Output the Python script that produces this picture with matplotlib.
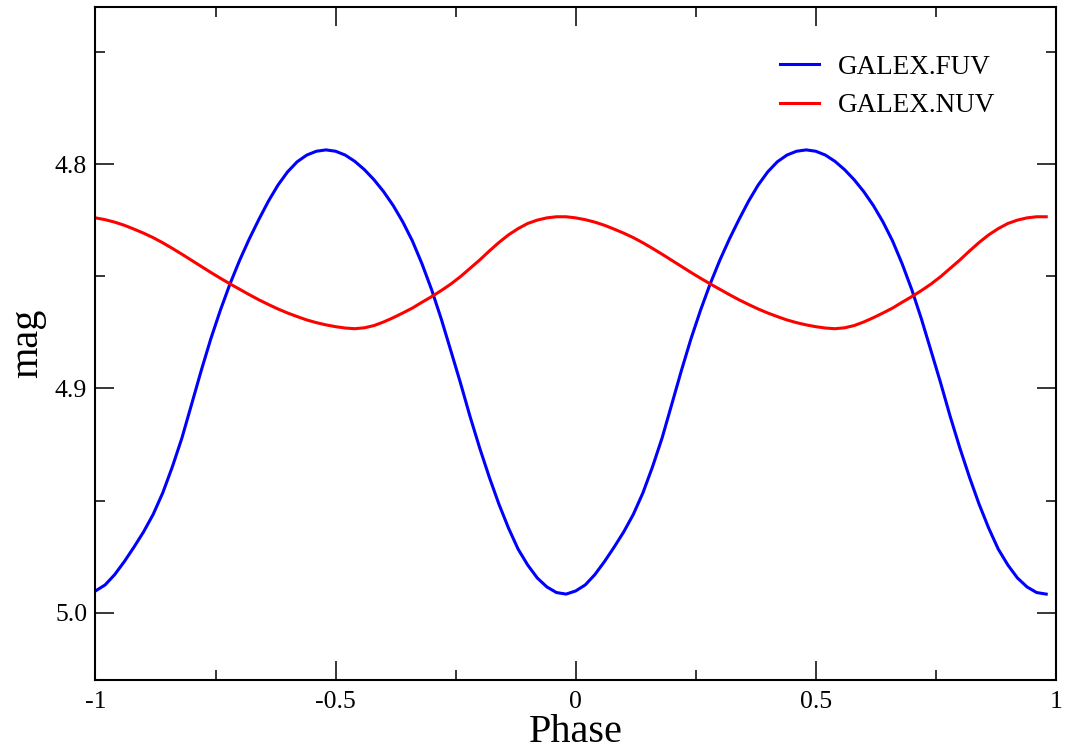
import numpy as np
import matplotlib
matplotlib.use("Agg")
import matplotlib.pyplot as plt

# ---- data (one phase cycle, repeated for phase -1..0 and 0..1) ----
phase_cycle = [0.00, 0.02, 0.04, 0.06, 0.08, 0.10, 0.12, 0.14, 0.16, 0.18,
               0.20, 0.22, 0.24, 0.26, 0.28, 0.30, 0.32, 0.34, 0.36, 0.38,
               0.40, 0.42, 0.44, 0.46, 0.48, 0.50, 0.52, 0.54, 0.56, 0.58,
               0.60, 0.62, 0.64, 0.66, 0.68, 0.70, 0.72, 0.74, 0.76, 0.78,
               0.80, 0.82, 0.84, 0.86, 0.88, 0.90, 0.92, 0.94, 0.96, 0.98]

fuv_mag = [4.9903, 4.9876, 4.9830, 4.9772, 4.9708, 4.9640, 4.9562, 4.9466, 4.9350, 4.9221,
           4.9072, 4.8922, 4.8780, 4.8652, 4.8535, 4.8430, 4.8335, 4.8248, 4.8166, 4.8094,
           4.8035, 4.7990, 4.7960, 4.7943, 4.7937, 4.7943, 4.7960, 4.7988, 4.8025, 4.8070,
           4.8123, 4.8185, 4.8258, 4.8343, 4.8445, 4.8560, 4.8690, 4.8832, 4.8975, 4.9125,
           4.9265, 4.9395, 4.9515, 4.9622, 4.9716, 4.9787, 4.9845, 4.9885, 4.9910, 4.9917]

nuv_mag = [4.8240, 4.8248, 4.8259, 4.8273, 4.8290, 4.8308, 4.8328, 4.8351, 4.8376, 4.8402,
           4.8429, 4.8456, 4.8483, 4.8509, 4.8534, 4.8558, 4.8582, 4.8605, 4.8626, 4.8646,
           4.8664, 4.8680, 4.8695, 4.8707, 4.8717, 4.8725, 4.8731, 4.8734, 4.8730, 4.8720,
           4.8704, 4.8685, 4.8664, 4.8642, 4.8616, 4.8591, 4.8564, 4.8535, 4.8502, 4.8465,
           4.8428, 4.8388, 4.8350, 4.8316, 4.8288, 4.8265, 4.8250, 4.8240, 4.8235, 4.8235]

series_labels = ["GALEX.FUV", "GALEX.NUV"]
x_ticks = [-1, -0.5, 0, 0.5, 1]
x_tick_labels = ["-1", "-0.5", "0", "0.5", "1"]
x_minor = [-0.75, -0.25, 0.25, 0.75]
y_ticks = [4.8, 4.9, 5.0]
y_tick_labels = ["4.8", "4.9", "5.0"]
y_minor = [4.75, 4.85, 4.95]

# ---- build the two plotted cycles ----
pc = np.array(phase_cycle)
phase = np.concatenate([pc - 1.0, pc])
fuv = np.concatenate([fuv_mag, fuv_mag])
nuv = np.concatenate([nuv_mag, nuv_mag])

plt.rcParams['font.family'] = ['Liberation Serif', 'DejaVu Serif']
plt.rcParams['axes.unicode_minus'] = False

fig = plt.figure(figsize=(10.73, 7.51), dpi=100)
ax = fig.add_axes([0.089, 0.0945, 0.895, 0.8962])

ax.plot(phase, fuv, color='#0000ff', lw=2.2, label=series_labels[0],
        solid_joinstyle='round')
ax.plot(phase, nuv, color='#ff0000', lw=2.2, label=series_labels[1],
        solid_joinstyle='round')

ax.set_xlim(-1, 1)
ax.set_ylim(5.03, 4.73)

ax.set_xticks(x_ticks)
ax.set_xticklabels(x_tick_labels)
ax.set_xticks(x_minor, minor=True)
ax.set_yticks(y_ticks)
ax.set_yticklabels(y_tick_labels)
ax.set_yticks(y_minor, minor=True)

ax.tick_params(which='both', direction='in', top=True, right=True, colors='black')
ax.tick_params(which='major', length=13.7, width=1.1, labelsize=18.5, pad=8)
ax.tick_params(axis='y', which='major', pad=6)
ax.tick_params(which='minor', length=7.0, width=1.1)
for s in ax.spines.values():
    s.set_linewidth(1.5)

ax.set_xlabel("Phase", fontsize=29, labelpad=0.5)
ax.set_ylabel("mag", fontsize=29, labelpad=6)

ax.legend(loc='upper left', bbox_to_anchor=(0.7127, 0.929), frameon=False,
          fontsize=19.5, handlelength=1.45, handletextpad=0.7, borderpad=0,
          borderaxespad=0, labelspacing=0.5)

fig.savefig("out.png", dpi=100)
